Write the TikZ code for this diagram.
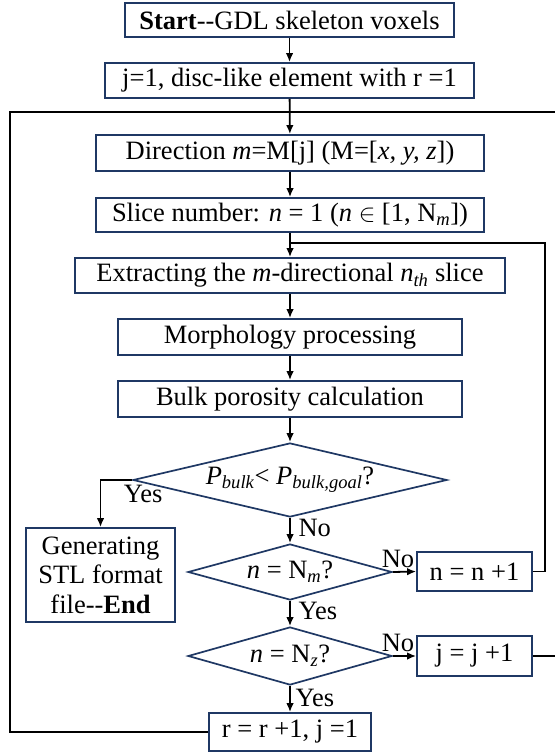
\documentclass[tikz,border=0pt]{standalone}
\usepackage{fontspec}
\setmainfont{Liberation Serif}
\usetikzlibrary{arrows.meta, positioning, shapes.geometric}
\definecolor{boxborder}{HTML}{1F3864}

\begin{document}
\begin{tikzpicture}[x=1pt, y=-1pt, font=\fontsize{26.5}{29.5}\selectfont,
    proc/.style={draw=boxborder, line width=1.7pt, inner sep=0pt, align=center},
    decide/.style={diamond, draw=boxborder, line width=1.7pt, inner sep=0pt, aspect=4},
    flow/.style={line width=1.8pt, -{Latex[length=9pt, width=7.5pt]}},
    link/.style={line width=1.8pt}]
      \useasboundingbox (0,0) rectangle (554,754);

      % main column
      \node[proc, minimum width=329pt, minimum height=34pt] (start) at (289.5,20)
        {\textbf{Start}-{}-GDL skeleton voxels};
      \node[proc, minimum width=369pt, minimum height=35pt] (init) at (289.5,80.5)
        {j=1, disc-like element with r =1};
      \node[proc, minimum width=388pt, minimum height=36pt] (dir) at (290,153)
        {Direction \textit{m}=M[j] (M=[\textit{x, y, z}])};
      \node[proc, minimum width=388pt, minimum height=34pt] (slice) at (290,215)
        {Slice number: \textit{n} = 1 (\textit{n} $\in$ [1, N\textsubscript{\textit{m}}])};
      \node[proc, minimum width=430pt, minimum height=35pt] (extract) at (290,275.5)
        {Extracting the \textit{m}-directional \textit{n}\textsubscript{\textit{th}} slice};
      \node[proc, minimum width=344pt, minimum height=36pt] (morph) at (290,337)
        {Morphology processing};
      \node[proc, minimum width=344pt, minimum height=36pt] (bulk) at (290,399)
        {Bulk porosity calculation};

      % decisions
      \node[decide, minimum width=314pt, minimum height=74pt] (goal) at (290,480)
        {\textit{P}\textsubscript{\textit{bulk}}< \textit{P}\textsubscript{\textit{bulk,goal}}?};
      \node[decide, minimum width=204pt, minimum height=56pt] (lastn) at (290,572)
        {\textit{n} = N\textsubscript{\textit{m}}?};
      \node[decide, minimum width=204pt, minimum height=58pt] (lastz) at (290,656)
        {\textit{n} = N\textsubscript{\textit{z}}?};

      % side boxes
      \node[proc, minimum width=149pt, minimum height=94pt] (finish) at (100.5,575)
        {Generating\\STL format\\file-{}-\textbf{End}};
      \node[proc, minimum width=115pt, minimum height=39pt] (incn) at (474.5,571.5)
        {n = n +1};
      \node[proc, minimum width=115pt, minimum height=40pt] (incj) at (474.5,656)
        {j = j +1};
      \node[proc, minimum width=162pt, minimum height=38pt] (incr) at (290,732)
        {r = r +1, j =1};

      % loop corners
      \coordinate (top) at (290,112);
      \coordinate (loopL) at (10,112);
      \coordinate (loopR) at (560,112);
      \coordinate (mid) at (290,243);
      \coordinate (loopN) at (545,243);

      \draw[flow] (start) -- (init);
      \draw[flow] (init) -- (dir);
      \draw[flow] (dir) -- (slice);
      \draw[flow] (slice) -- (extract);
      \draw[flow] (extract) -- (morph);
      \draw[flow] (morph) -- (bulk);
      \draw[flow] (bulk) -- (goal);

      \draw[flow] (goal.west) -| (finish.north);
      \node[anchor=north east] (yes1) at (166,482) {Yes};
      \draw[flow] (goal.south) -- (lastn.north);
      \node[anchor=west] (no1) at (295,528) {No};
      \draw[flow] (lastn.east) -- (incn.west);
      \node[anchor=south] (no2) at (398,571) {No};
      \draw[flow] (lastn.south) -- (lastz.north);
      \node[anchor=west] (yes2) at (295,611) {Yes};
      \draw[flow] (lastz.east) -- (incj.west);
      \node[anchor=south] (no3) at (398,655) {No};
      \draw[flow] (lastz.south) -- (incr.north);
      \node[anchor=west] (yes3) at (292,698) {Yes};

      % feedback lines
      \draw[link] (incn.east) -| (loopN) -- (mid);
      \draw[link] (incj.east) -| (loopR) -- (top);
      \draw[link] (incr.west) -| (loopL) -- (top);
    \end{tikzpicture}
\end{document}
